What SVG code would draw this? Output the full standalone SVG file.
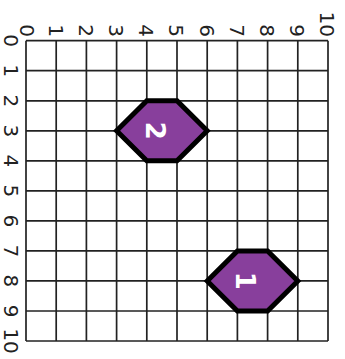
<svg xmlns="http://www.w3.org/2000/svg" width="345" height="359" viewBox="0 0 345 359">
<style>
.grid line{stroke:#222;stroke-width:1.7}
.ax{font-family:"DejaVu Sans",sans-serif;font-size:20px;fill:#222}
.hex{fill:#883f9c;stroke:#000;stroke-width:5;stroke-linejoin:miter}
.lbl{font-family:"DejaVu Sans",sans-serif;font-size:26px;font-weight:bold;fill:#fff;text-anchor:middle}
</style>
<rect width="345" height="359" fill="#fff"/>
<g id="grid" class="grid">
<line x1="26" y1="40.7" x2="26" y2="341"/>
<line x1="56.2" y1="40.7" x2="56.2" y2="341"/>
<line x1="86.4" y1="40.7" x2="86.4" y2="341"/>
<line x1="116.6" y1="40.7" x2="116.6" y2="341"/>
<line x1="146.8" y1="40.7" x2="146.8" y2="341"/>
<line x1="177" y1="40.7" x2="177" y2="341"/>
<line x1="207.2" y1="40.7" x2="207.2" y2="341"/>
<line x1="237.4" y1="40.7" x2="237.4" y2="341"/>
<line x1="267.6" y1="40.7" x2="267.6" y2="341"/>
<line x1="297.8" y1="40.7" x2="297.8" y2="341"/>
<line x1="328" y1="40.7" x2="328" y2="341"/>
<line x1="26" y1="40.7" x2="328" y2="40.7"/>
<line x1="26" y1="70.7" x2="328" y2="70.7"/>
<line x1="26" y1="100.8" x2="328" y2="100.8"/>
<line x1="26" y1="130.8" x2="328" y2="130.8"/>
<line x1="26" y1="160.8" x2="328" y2="160.8"/>
<line x1="26" y1="190.9" x2="328" y2="190.9"/>
<line x1="26" y1="220.9" x2="328" y2="220.9"/>
<line x1="26" y1="250.9" x2="328" y2="250.9"/>
<line x1="26" y1="280.9" x2="328" y2="280.9"/>
<line x1="26" y1="311" x2="328" y2="311"/>
<line x1="26" y1="341" x2="328" y2="341"/>
</g>
<g id="axis-top" class="ax" text-anchor="end">
<text transform="translate(20,37) rotate(90)">0</text>
<text transform="translate(48.5,37) rotate(90)">1</text>
<text transform="translate(78.7,37) rotate(90)">2</text>
<text transform="translate(108.9,37) rotate(90)">3</text>
<text transform="translate(139.1,37) rotate(90)">4</text>
<text transform="translate(169.3,37) rotate(90)">5</text>
<text transform="translate(199.5,37) rotate(90)">6</text>
<text transform="translate(229.7,37) rotate(90)">7</text>
<text transform="translate(259.9,37) rotate(90)">8</text>
<text transform="translate(290.1,37) rotate(90)">9</text>
<text transform="translate(320.3,37) rotate(90)">10</text>
</g>
<g id="axis-left" class="ax" text-anchor="middle">
<text transform="translate(3.5,40.7) rotate(90)">0</text>
<text transform="translate(3.5,70.7) rotate(90)">1</text>
<text transform="translate(3.5,100.8) rotate(90)">2</text>
<text transform="translate(3.5,130.8) rotate(90)">3</text>
<text transform="translate(3.5,160.8) rotate(90)">4</text>
<text transform="translate(3.5,190.9) rotate(90)">5</text>
<text transform="translate(3.5,220.9) rotate(90)">6</text>
<text transform="translate(3.5,250.9) rotate(90)">7</text>
<text transform="translate(3.5,280.9) rotate(90)">8</text>
<text transform="translate(3.5,311) rotate(90)">9</text>
<text transform="translate(3.5,341) rotate(90)">10</text>
</g>
<g id="connectors"></g>
<g id="node-2">
<polygon class="hex" points="116.6,130.8 146.8,100.8 177,100.8 207.2,130.8 177,160.8 146.8,160.8"/>
<text class="lbl" transform="translate(146,130.8) rotate(90)">2</text>
</g>
<g id="node-1">
<polygon class="hex" points="207.2,280.9 237.4,250.9 267.6,250.9 297.8,280.9 267.6,311 237.4,311"/>
<text class="lbl" transform="translate(236,280.9) rotate(90)">1</text>
</g>
</svg>
